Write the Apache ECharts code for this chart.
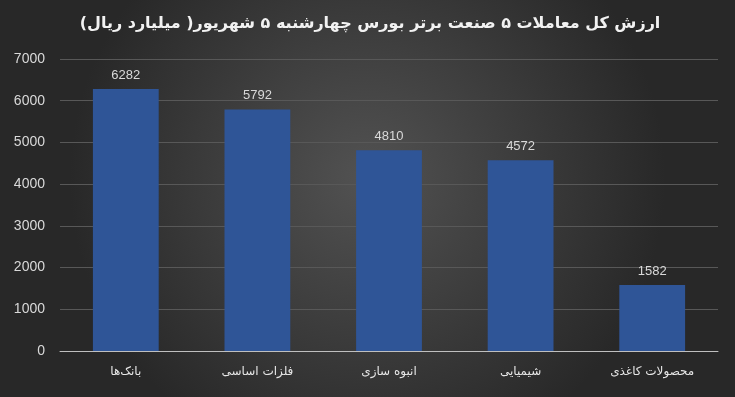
<!DOCTYPE html>
<html><head><meta charset="utf-8">
<script src="https://cdn.jsdelivr.net/npm/echarts@6/dist/echarts.min.js"></script>
<style>html,body{margin:0;padding:0;background:#333}#c{width:735px;height:397px}</style>
</head><body><div id="c"></div>
<script>
const titleText = 'ارزش کل معاملات ۵ صنعت برتر بورس چهارشنبه ۵ شهریور( میلیارد ریال)';
const categories = ['بانک‌ها', 'فلزات اساسی', 'انبوه سازی', 'شیمیایی', 'محصولات کاغذی'];
const values = [6282, 5792, 4810, 4572, 1582];
const yTicks = [0, 1000, 2000, 3000, 4000, 5000, 6000, 7000];

const chart = echarts.init(document.getElementById('c'), null, {renderer: 'canvas'});
chart.setOption({
  animation: false,
  backgroundColor: {
    type: 'radial', x: 0.5, y: 0.45, r: 0.75,
    colorStops: [{offset: 0, color: '#525252'}, {offset: 1, color: '#282828'}]
  },
  title: {
    text: titleText, left: 365, top: 11, textAlign: 'center',
    textStyle: {color: '#f2f2f2', fontSize: 16, fontWeight: 'bold', fontFamily: 'DejaVu Sans'}
  },
  grid: {left: 60, right: 17, top: 59, bottom: 46},
  xAxis: {
    type: 'category', data: categories,
    axisLine: {lineStyle: {color: '#bfbfbf', width: 1}},
    axisTick: {show: false},
    axisLabel: {color: '#e6e6e6', fontSize: 12, fontFamily: 'DejaVu Sans', margin: 15}
  },
  yAxis: {
    type: 'value', min: yTicks[0], max: yTicks[yTicks.length - 1], interval: 1000,
    axisLine: {show: false}, axisTick: {show: false},
    splitLine: {lineStyle: {color: '#585858', width: 1}},
    axisLabel: {color: '#d9d9d9', fontSize: 14, fontFamily: 'Liberation Sans', margin: 15,
      formatter: v => String(v)}
  },
  series: [{
    type: 'bar', data: values, barWidth: '50%',
    itemStyle: {color: '#2f5597'},
    label: {show: true, position: 'top', distance: 7, color: '#d9d9d9', fontSize: 13, fontFamily: 'Liberation Sans'}
  }]
});
</script></body></html>
